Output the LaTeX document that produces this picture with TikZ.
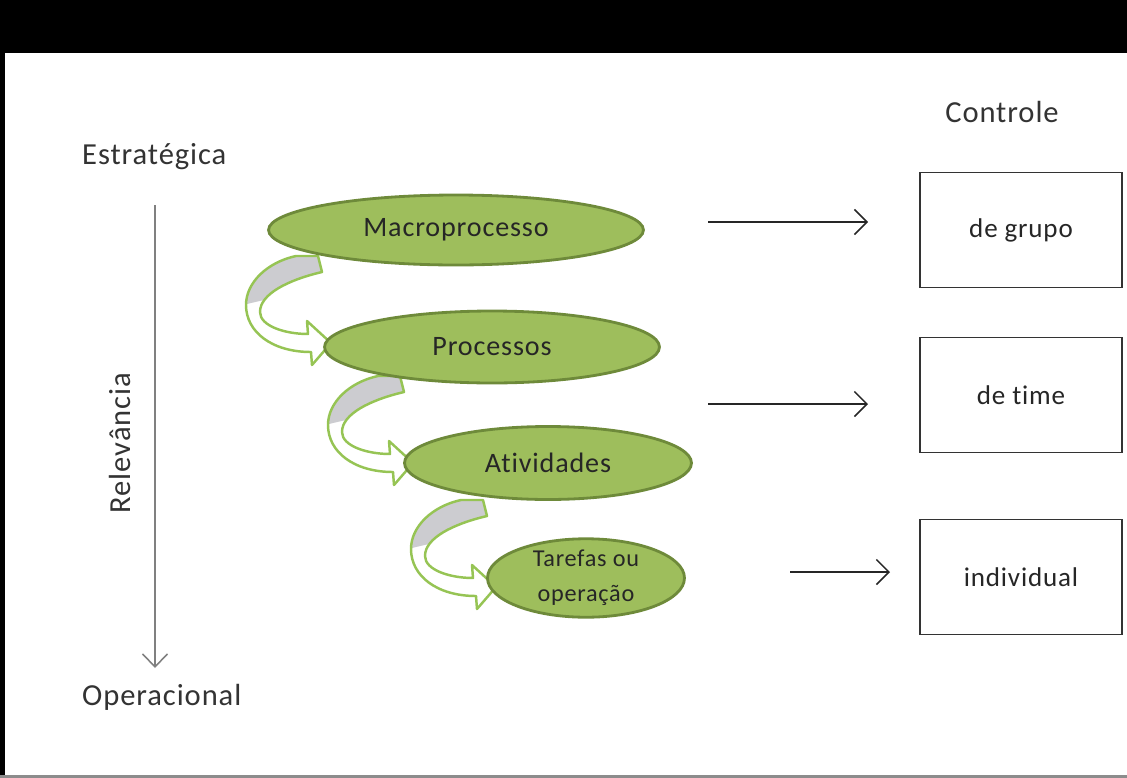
\documentclass[tikz,border=0pt]{standalone}
\usepackage{fontspec}
\setmainfont{Carlito}[LetterSpace=3, Ligatures=NoCommon]
\usepackage{tikz}
\usetikzlibrary{shapes,arrows.meta,positioning}

\definecolor{levelfill}{RGB}{158,190,92}
\definecolor{leveldraw}{RGB}{110,138,58}
\definecolor{turndraw}{RGB}{150,196,84}
\definecolor{turnshade}{RGB}{204,204,208}

% curved arrow between two levels
\newcommand{\turnarrow}[1]{%
	\begin{scope}[shift={#1}]
		\begin{scope}
			\clip \turnpath;
			\fill[white] (230,240) rectangle (340,370);
			\fill[turnshade] (230,240) -- (340,240) -- (340,282) -- (230,308) -- cycle;
		\end{scope}
		\draw[Turn] \turnpath;
	\end{scope}}
\newcommand{\turnpath}{(296,256) -- (318,256) -- (322,272)
	.. controls (288,280) and (260,294) .. (260,312)
	.. controls (260,326) and (285,334) .. (308,334)
	-- (307,321) -- (331,343) -- (312,365) -- (311,352)
	.. controls (272,352) and (246,332) .. (246,305)
	.. controls (246,282) and (268,262) .. (296,256) -- cycle}

\begin{document}
\begin{tikzpicture}[x=0.02cm, y=-0.02cm]
			\tikzstyle{Level}	= [ellipse, draw=leveldraw, line width=1.6pt, fill=levelfill, inner sep=0pt, font=\fontsize{16}{19}\selectfont, text=black!85]
			\tikzstyle{Ctrl}	= [rectangle, draw=black!80, line width=1pt, minimum width=4.04cm, minimum height=2.3cm, font=\fontsize{15.4}{18}\selectfont, text=black!85]
			\tikzstyle{Turn}	= [turndraw, line width=1.4pt, line join=round]
			\tikzstyle{Link}	= [-{Straight Barb[length=2.5mm, width=5mm]}, line width=0.9pt, black!85]
			\tikzstyle{Label}	= [font=\fontsize{17.4}{20}\selectfont, text=black!80]
			
			\useasboundingbox (0,0) rectangle (1127,778);
			\fill[black] (0,0) rectangle (1127,53);
			\fill[black] (0,53) rectangle (5,778);
			\fill[black!45] (0,775) rectangle (1127,778);
			
			\node (strat) at (76,157) [Label, anchor=west] {Estratégica};
			\node (oper) at (76,697) [Label, anchor=west] {Operacional};
			\node (relev) at (120,443) [Label, rotate=90] {Relevância};
			\node (ctrl) at (1002,112) [Label] {Controle};
			
			\coordinate (top) at (155,205);
			\coordinate (bottom) at (155,668);
			\draw [-{Straight Barb[length=2.6mm, width=5mm]}, black!50, line width=0.9pt] (top) to (bottom);
			
			\turnarrow{(0,0)}
			\turnarrow{(82,120)}
			\turnarrow{(165,244)}
			
			\node (macro) at (456,230) [Level, minimum width=7.5cm, minimum height=1.4cm] {Macroprocesso};
			\node (proc) at (492,347) [Level, minimum width=6.7cm, minimum height=1.44cm] {Processos};
			\node (ativ) at (548,463) [Level, minimum width=5.74cm, minimum height=1.46cm] {Atividades};
			\node (taref) at (586,578) [Level, minimum width=3.94cm, minimum height=1.5cm, align=center, font=\fontsize{13.8}{19.8}\selectfont] {Tarefas ou\\operação};
			
			\node (grupo) at (1021,230) [Ctrl] {de grupo};
			\node (time) at (1021,395) [Ctrl] {de time};
			\node (indiv) at (1021,577) [Ctrl] {individual};
			
			\coordinate (a1) at (708,222);
			\coordinate (b1) at (868,222);
			\coordinate (a2) at (708,404);
			\coordinate (b2) at (868,404);
			\coordinate (a3) at (790,572);
			\coordinate (b3) at (890,572);
			\draw [Link] (a1) to (b1);
			\draw [Link] (a2) to (b2);
			\draw [Link] (a3) to (b3);
		\end{tikzpicture}
\end{document}
